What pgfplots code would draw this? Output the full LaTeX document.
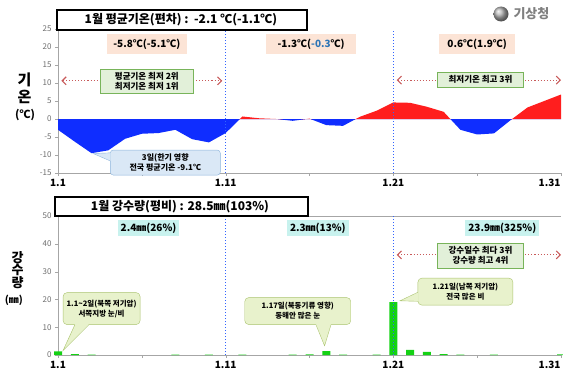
\documentclass[border=0pt]{standalone}
\usepackage{pgfplots}
\pgfplotsset{compat=1.18}
\usetikzlibrary{arrows.meta}
\usepackage{fontspec}
\setmainfont{Noto Sans CJK KR}
\definecolor{tred}{RGB}{255,30,30}
\definecolor{tblue}{RGB}{15,45,255}
\definecolor{pinkbox}{RGB}{252,228,214}
\definecolor{greenbox}{RGB}{226,240,217}
\definecolor{greenedge}{RGB}{120,180,90}
\definecolor{bluebox}{RGB}{218,232,246}
\definecolor{blueedge}{RGB}{140,180,220}
\definecolor{cyanbox}{RGB}{200,242,238}
\definecolor{calloutg}{RGB}{232,242,204}
\definecolor{callouted}{RGB}{170,195,110}
\definecolor{barg}{RGB}{20,210,20}
\definecolor{arrowred}{RGB}{200,90,90}
\definecolor{vline}{RGB}{50,100,255}
\definecolor{tickgray}{RGB}{110,110,110}
\definecolor{valblue}{RGB}{46,117,182}

\pgfplotstableread{
day anom
1 -3.0
2 -6.3
3 -9.5
4 -8.7
5 -5.5
6 -4.1
7 -3.9
8 -3.0
9 -5.6
10 -6.5
11 -3.9
12 0.7
13 0.2
14 0.0
15 -0.5
16 0.1
17 -1.7
18 -1.9
19 0.6
20 2.3
21 4.6
22 4.5
23 3.4
24 2.0
25 -3.0
26 -4.3
27 -4.0
28 -0.3
29 3.2
30 5.0
31 6.8
}\temptable

\pgfplotstableread{
day rain
1 1.3
2 0.3
3 0.1
8 0.1
10 0.1
12 0.1
15 0.1
16 0.2
17 1.4
18 0.1
20 0.1
21 19.0
22 1.8
23 1.1
24 0.3
25 0.1
27 0.1
31 0.2
}\raintable

\pgfplotsset{kma/.style={
  scale only axis, width=503pt, xmin=1, xmax=31,
  axis line style={gray!70},
  xtick={1,6,11,16,21,26},
  xticklabels={1.1,,1.11,,1.21,},
  extra x ticks={31}, extra x tick labels={1.31},
  extra x tick style={xticklabel style={anchor=north east, xshift=3pt}},
  tick style={gray!70}, major tick length=3pt,
  tick align=outside, tick pos=left,
  xticklabel style={font=\fontsize{10}{10}\selectfont\bfseries, black},
  yticklabel style={font=\fontsize{8}{8}\selectfont, tickgray},
  /pgf/number format/assume math mode=true,
  clip=false}}

\begin{document}
\begin{tikzpicture}
\path[use as bounding box] (0pt,0pt) rectangle (563pt,376pt);

% ---------------- top chart ----------------
\begin{axis}[kma, at={(58pt,203pt)}, anchor=south west, height=144pt,
  ymin=-15, ymax=25, ytick={-15,-10,...,25},
  axis lines*=left]
\begin{scope}
\clip (axis cs:1,0) rectangle (axis cs:31,25);
\addplot[fill=tred, draw=none] table[x=day,y=anom] {\temptable} \closedcycle;
\end{scope}
\begin{scope}
\clip (axis cs:1,-15) rectangle (axis cs:31,0);
\addplot[fill=tblue, draw=none] table[x=day,y=anom] {\temptable} \closedcycle;
\end{scope}
\addplot[vline, dotted, line width=1pt] coordinates {(11,-15) (11,25)};
\addplot[vline, dotted, line width=1pt] coordinates {(21,-15) (21,25)};

\node[fill=pinkbox, inner sep=2pt, minimum width=80pt, minimum height=20pt, font=\fontsize{10}{12}\selectfont\bfseries] at (axis cs:6.3,20.8) {-5.8℃(-5.1℃)};
\node[fill=pinkbox, inner sep=2pt, minimum width=90pt, minimum height=20pt, font=\fontsize{10}{12}\selectfont\bfseries] at (axis cs:16.1,20.8) {-1.3℃(\textcolor{valblue}{-0.3}℃)};
\node[fill=pinkbox, inner sep=2pt, minimum width=76pt, minimum height=20pt, font=\fontsize{10}{12}\selectfont\bfseries] at (axis cs:26.0,20.8) {0.6℃(1.9℃)};

\draw[arrowred, dotted, line width=1.1pt, {Straight Barb[length=4pt]}-{Straight Barb[length=4pt]}] (axis cs:1.2,10.6) -- (axis cs:10.8,10.6);
\draw[arrowred, dotted, line width=1.1pt, {Straight Barb[length=4pt]}-{Straight Barb[length=4pt]}] (axis cs:21.2,10.8) -- (axis cs:31,10.8);
\node[fill=greenbox, draw=greenedge, line width=0.5pt, align=center, inner sep=3pt, minimum width=93pt, minimum height=23pt, font=\fontsize{8.5}{10}\selectfont\bfseries] at (axis cs:6.3,10.4) {평균기온 최저 2위\\최저기온 최저 1위};
\node[fill=greenbox, draw=greenedge, line width=0.5pt, inner sep=3pt, minimum width=86pt, minimum height=15pt, font=\fontsize{8.5}{10}\selectfont\bfseries] at (axis cs:26.2,11) {최저기온 최고 3위};

\coordinate (pa) at (axis cs:3.1,-9.6);
\coordinate (ca) at (axis cs:7.4,-12.1);
\end{axis}

% ---------------- bottom chart ----------------
\begin{axis}[kma, at={(58pt,21pt)}, anchor=south west, height=139pt,
  ymin=0, ymax=50, ytick={0,10,...,50},
  axis x line*=box, axis y line*=left]
\addplot[ybar, bar width=8pt, fill=barg, draw=none] table[x=day,y=rain] {\raintable};
\addplot[vline, dotted, line width=1pt] coordinates {(11,0) (11,50)};
\addplot[vline, dotted, line width=1pt] coordinates {(21,0) (21,50)};

\node[fill=cyanbox, inner sep=3pt, font=\fontsize{10}{12}\selectfont\bfseries] at (axis cs:6.4,45.7) {2.4㎜(26\%)};
\node[fill=cyanbox, inner sep=3pt, font=\fontsize{10}{12}\selectfont\bfseries] at (axis cs:16.5,45.7) {2.3㎜(13\%)};
\node[fill=cyanbox, inner sep=3pt, font=\fontsize{10}{12}\selectfont\bfseries] at (axis cs:27.5,45.7) {23.9㎜(325\%)};

\draw[arrowred, dotted, line width=1.1pt, {Straight Barb[length=4pt]}-{Straight Barb[length=4pt]}] (axis cs:21.2,36) -- (axis cs:31,36);
\node[fill=greenbox, draw=greenedge, line width=0.5pt, align=center, inner sep=3pt, minimum width=86pt, minimum height=25pt, font=\fontsize{8.5}{10}\selectfont\bfseries] at (axis cs:26.2,35.8) {강수일수 최다 3위\\강수량 최고 4위};

\coordinate (pb) at (axis cs:1.3,1.6);
\coordinate (pc) at (axis cs:16.9,3.3);
\coordinate (pd) at (axis cs:21.4,19.5);
\coordinate (cb) at (axis cs:3.6,16.7);
\coordinate (cc) at (axis cs:15.3,15.8);
\coordinate (cd) at (axis cs:25.3,22.8);
\end{axis}

% ---------------- callouts (box + pointer) ----------------
\node[fill=bluebox, draw=blueedge, rounded corners=3pt, align=center, inner sep=2pt,
  minimum width=110pt, minimum height=25pt, font=\fontsize{8}{10}\selectfont\bfseries]
  (A) at (ca) {3일(한기 영향\\전국 평균기온 -9.1℃};
\fill[bluebox] ([yshift=-3pt,xshift=0.6pt]A.north west) -- (pa) -- ([yshift=-11pt,xshift=0.6pt]A.north west) -- cycle;
\draw[blueedge] ([yshift=-3pt]A.north west) -- (pa) -- ([yshift=-11pt]A.north west);

\node[fill=calloutg, draw=callouted, rounded corners=4pt, align=center, inner sep=2pt,
  minimum width=77pt, minimum height=32pt, font=\fontsize{7.5}{10}\selectfont\bfseries]
  (B) at (cb) {1.1\textasciitilde2일(북쪽 저기압)\\서쪽지방 눈/비};
\fill[calloutg] ([xshift=12pt,yshift=0.6pt]B.south west) -- (pb) -- ([xshift=26pt,yshift=0.6pt]B.south west) -- cycle;
\draw[callouted] ([xshift=12pt]B.south west) -- (pb) -- ([xshift=26pt]B.south west);

\node[fill=calloutg, draw=callouted, rounded corners=4pt, align=center, inner sep=2pt,
  minimum width=106pt, minimum height=27pt, font=\fontsize{7.5}{10}\selectfont\bfseries]
  (C) at (cc) {1.17일(북동기류 영향)\\동해안 많은 눈};
\fill[calloutg] ([xshift=-35pt,yshift=0.6pt]C.south east) -- (pc) -- ([xshift=-20pt,yshift=0.6pt]C.south east) -- cycle;
\draw[callouted] ([xshift=-35pt]C.south east) -- (pc) -- ([xshift=-20pt]C.south east);

\node[fill=calloutg, draw=callouted, rounded corners=4pt, align=center, inner sep=2pt,
  minimum width=95pt, minimum height=27pt, font=\fontsize{7.5}{10}\selectfont\bfseries]
  (D) at (cd) {1.21일(남쪽 저기압)\\전국 많은 비};
\fill[calloutg] ([yshift=4pt,xshift=0.6pt]D.south west) -- (pd) -- ([yshift=13pt,xshift=0.6pt]D.south west) -- cycle;
\draw[callouted] ([yshift=4pt]D.south west) -- (pd) -- ([yshift=13pt]D.south west);

% ---------------- title boxes ----------------
\draw[line width=1.2pt, fill=white] (57pt,346pt) rectangle (307pt,366pt);
\node[font=\fontsize{12}{14}\selectfont\bfseries] at (181pt,356pt) {1월 평균기온(편차) :\ \ -2.1 ℃(-1.1℃)};
\draw[line width=1.2pt, fill=white] (55pt,160pt) rectangle (308pt,179pt);
\node[font=\fontsize{12}{14}\selectfont\bfseries] at (180pt,169.5pt) {1월 강수량(평비) : 28.5㎜(103\%)};

% ---------------- y labels ----------------
\node[font=\fontsize{15}{15}\selectfont\bfseries] at (24.5pt,296pt) {기};
\node[font=\fontsize{15}{15}\selectfont\bfseries] at (24.5pt,279pt) {온};
\node[font=\fontsize{11}{11}\selectfont\bfseries] at (25pt,261pt) {(℃)};
\node[font=\fontsize{13}{13}\selectfont\bfseries] at (17.5pt,118.5pt) {강};
\node[font=\fontsize{13}{13}\selectfont\bfseries] at (17.5pt,106.5pt) {수};
\node[font=\fontsize{13}{13}\selectfont\bfseries] at (17.5pt,93.5pt) {량};
\node[font=\fontsize{10}{10}\selectfont\bfseries] at (14pt,75.5pt) {(㎜)};

% ---------------- logo ----------------
\shade[ball color=gray!60] (501pt,362pt) circle (7.5pt);
\node[text=gray, font=\fontsize{13}{13}\selectfont\bfseries, anchor=west] at (510pt,362pt) {기상청};
\end{tikzpicture}
\end{document}
